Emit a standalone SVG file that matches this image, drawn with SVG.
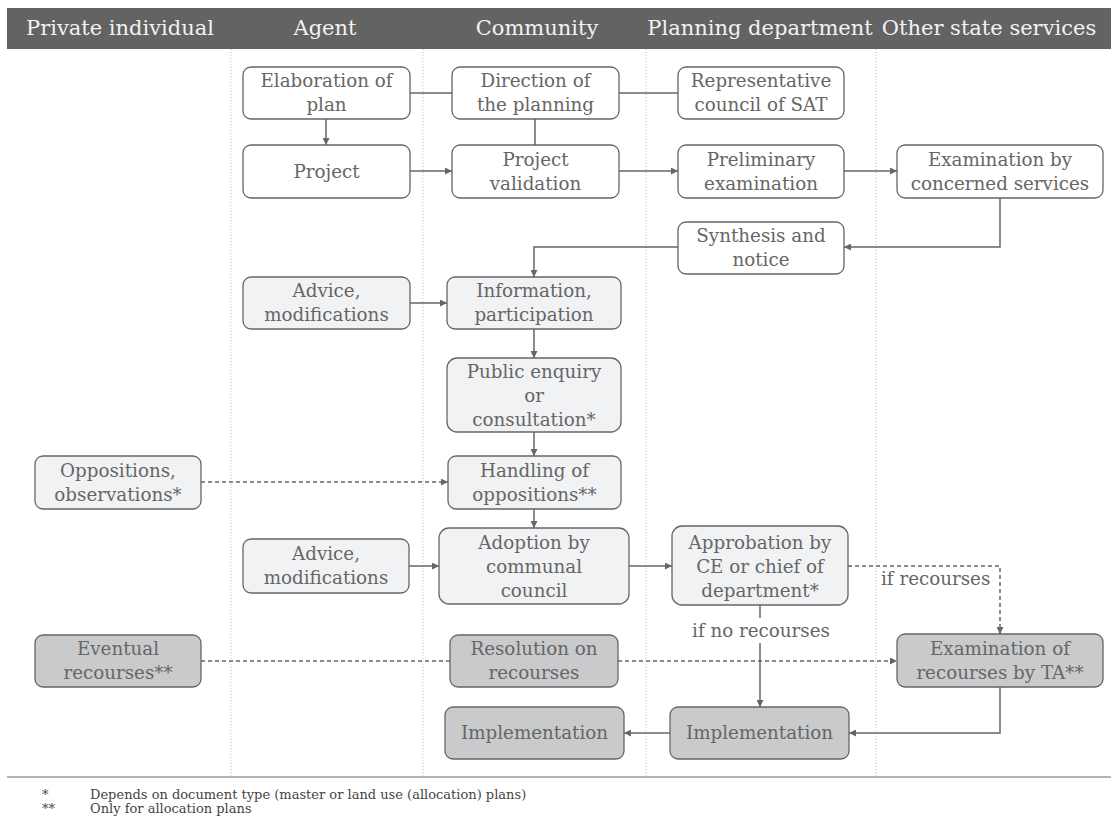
<svg xmlns="http://www.w3.org/2000/svg" width="1115" height="825" viewBox="0 0 1115 825">
  <style>
    .hdr { fill: #f2f2f2; font-family: "DejaVu Serif", "Liberation Serif", serif; font-size: 21px; text-anchor: middle; }
    .box { stroke: #666; stroke-width: 1.3; }
    .w { fill: #ffffff; }
    .l { fill: #f1f2f4; }
    .d { fill: #c9cacc; }
    .t { fill: #666; font-family: "DejaVu Serif", "Liberation Serif", serif; font-size: 18.3px; text-anchor: middle; }
    .lane { stroke: #bdbdbd; stroke-width: 1; stroke-dasharray: 1 2; }
    .c { stroke: #666; stroke-width: 1.5; fill: none; }
    .dash { stroke-dasharray: 4 3; }
    .foot { fill: #444; font-family: "DejaVu Serif", "Liberation Serif", serif; font-size: 13px; }
  </style>
  <defs>
    <marker id="arr" viewBox="0 0 10 10" refX="10" refY="5" markerWidth="7" markerHeight="7" orient="auto" markerUnits="userSpaceOnUse">
      <path d="M0,0 L10,5 L0,10 z" fill="#666"/>
    </marker>
  </defs>

  <!-- header band with lane titles -->
  <g id="header">
    <rect x="7" y="8" width="1104" height="41" fill="#636363"/>
    <text class="hdr" x="120" y="35">Private individual</text>
    <text class="hdr" x="325" y="35">Agent</text>
    <text class="hdr" x="537" y="35">Community</text>
    <text class="hdr" x="760" y="35">Planning department</text>
    <text class="hdr" x="989" y="35">Other state services</text>
  </g>

  <!-- lane separators -->
  <g id="lanes">
    <line class="lane" x1="231" y1="49" x2="231" y2="777"/>
    <line class="lane" x1="423" y1="49" x2="423" y2="777"/>
    <line class="lane" x1="646" y1="49" x2="646" y2="777"/>
    <line class="lane" x1="876" y1="49" x2="876" y2="777"/>
    <line x1="7" y1="777" x2="1111" y2="777" stroke="#999" stroke-width="1.5"/>
  </g>

  <!-- connectors -->
  <g id="connectors">
    <line class="c" x1="410" y1="93" x2="452" y2="93"/>
    <line class="c" x1="619" y1="93" x2="678" y2="93"/>
    <line class="c" x1="535" y1="119" x2="535" y2="145"/>
    <line class="c" x1="326" y1="119" x2="326" y2="145" marker-end="url(#arr)"/>
    <line class="c" x1="410" y1="171" x2="452" y2="171" marker-end="url(#arr)"/>
    <line class="c" x1="619" y1="171" x2="678" y2="171" marker-end="url(#arr)"/>
    <line class="c" x1="844" y1="171" x2="897" y2="171" marker-end="url(#arr)"/>
    <polyline class="c" points="1000,198 1000,247 844,247" marker-end="url(#arr)"/>
    <polyline class="c" points="678,247 534,247 534,277" marker-end="url(#arr)"/>
    <line class="c" x1="410" y1="303" x2="447" y2="303" marker-end="url(#arr)"/>
    <line class="c" x1="534" y1="329" x2="534" y2="358" marker-end="url(#arr)"/>
    <line class="c" x1="534" y1="432" x2="534" y2="456" marker-end="url(#arr)"/>
    <line class="c dash" x1="201" y1="482" x2="448" y2="482" marker-end="url(#arr)"/>
    <line class="c" x1="534" y1="509" x2="534" y2="528" marker-end="url(#arr)"/>
    <line class="c" x1="409" y1="566" x2="439" y2="566" marker-end="url(#arr)"/>
    <line class="c" x1="629" y1="566" x2="672" y2="566" marker-end="url(#arr)"/>
    <polyline class="c dash" points="848,566 1000,566 1000,634" marker-end="url(#arr)"/>
    <line class="c" x1="760" y1="605" x2="760" y2="618"/>
    <line class="c" x1="760" y1="643" x2="760" y2="707" marker-end="url(#arr)"/>
    <line class="c dash" x1="201" y1="661" x2="450" y2="661"/>
    <line class="c dash" x1="618" y1="661" x2="897" y2="661" marker-end="url(#arr)"/>
    <polyline class="c" points="1000,687 1000,733 849,733" marker-end="url(#arr)"/>
    <line class="c" x1="670" y1="733" x2="624" y2="733" marker-end="url(#arr)"/>
    <text class="t" x="881" y="585" text-anchor="start" style="text-anchor:start">if recourses</text>
    <text class="t" x="761" y="637">if no recourses</text>
  </g>

  <g id="elaboration">
    <rect class="box w" x="243" y="67" width="167" height="52" rx="8"/>
    <text class="t" x="326.5" y="87">Elaboration of</text>
    <text class="t" x="326.5" y="111">plan</text>
  </g>
  <g id="direction">
    <rect class="box w" x="452" y="67" width="167" height="52" rx="8"/>
    <text class="t" x="535.5" y="87">Direction of</text>
    <text class="t" x="535.5" y="111">the planning</text>
  </g>
  <g id="representative">
    <rect class="box w" x="678" y="67" width="166" height="52" rx="8"/>
    <text class="t" x="761" y="87">Representative</text>
    <text class="t" x="761" y="111">council of SAT</text>
  </g>
  <g id="project">
    <rect class="box w" x="243" y="145" width="167" height="53" rx="8"/>
    <text class="t" x="326.5" y="178">Project</text>
  </g>
  <g id="validation">
    <rect class="box w" x="452" y="145" width="167" height="53" rx="8"/>
    <text class="t" x="535.5" y="166">Project</text>
    <text class="t" x="535.5" y="190">validation</text>
  </g>
  <g id="preliminary">
    <rect class="box w" x="678" y="145" width="166" height="53" rx="8"/>
    <text class="t" x="761" y="166">Preliminary</text>
    <text class="t" x="761" y="190">examination</text>
  </g>
  <g id="examination">
    <rect class="box w" x="897" y="145" width="206" height="53" rx="8"/>
    <text class="t" x="1000" y="166">Examination by</text>
    <text class="t" x="1000" y="190">concerned services</text>
  </g>
  <g id="synthesis">
    <rect class="box w" x="678" y="222" width="166" height="52" rx="8"/>
    <text class="t" x="761" y="242">Synthesis and</text>
    <text class="t" x="761" y="266">notice</text>
  </g>
  <g id="advice1">
    <rect class="box l" x="243" y="277" width="167" height="52" rx="8"/>
    <text class="t" x="326.5" y="297">Advice,</text>
    <text class="t" x="326.5" y="321">modifications</text>
  </g>
  <g id="information">
    <rect class="box l" x="447" y="277" width="174" height="52" rx="8"/>
    <text class="t" x="534" y="297">Information,</text>
    <text class="t" x="534" y="321">participation</text>
  </g>
  <g id="enquiry">
    <rect class="box l" x="447" y="358" width="174" height="74" rx="10"/>
    <text class="t" x="534" y="378">Public enquiry</text>
    <text class="t" x="534" y="402">or</text>
    <text class="t" x="534" y="426">consultation*</text>
  </g>
  <g id="oppositions">
    <rect class="box l" x="35" y="456" width="166" height="53" rx="8"/>
    <text class="t" x="118" y="477">Oppositions,</text>
    <text class="t" x="118" y="501">observations*</text>
  </g>
  <g id="handling">
    <rect class="box l" x="448" y="456" width="173" height="53" rx="8"/>
    <text class="t" x="534.5" y="477">Handling of</text>
    <text class="t" x="534.5" y="501">oppositions**</text>
  </g>
  <g id="advice2">
    <rect class="box l" x="243" y="539" width="166" height="54" rx="8"/>
    <text class="t" x="326" y="560">Advice,</text>
    <text class="t" x="326" y="584">modifications</text>
  </g>
  <g id="adoption">
    <rect class="box l" x="439" y="528" width="190" height="76" rx="10"/>
    <text class="t" x="534" y="549">Adoption by</text>
    <text class="t" x="534" y="573">communal</text>
    <text class="t" x="534" y="597">council</text>
  </g>
  <g id="approbation">
    <rect class="box l" x="672" y="526" width="176" height="79" rx="10"/>
    <text class="t" x="760" y="549">Approbation by</text>
    <text class="t" x="760" y="573">CE or chief of</text>
    <text class="t" x="760" y="597">department*</text>
  </g>
  <g id="eventual">
    <rect class="box d" x="35" y="635" width="166" height="52" rx="8"/>
    <text class="t" x="118" y="655">Eventual</text>
    <text class="t" x="118" y="679">recourses**</text>
  </g>
  <g id="resolution">
    <rect class="box d" x="450" y="635" width="168" height="52" rx="8"/>
    <text class="t" x="534" y="655">Resolution on</text>
    <text class="t" x="534" y="679">recourses</text>
  </g>
  <g id="recourses-ta">
    <rect class="box d" x="897" y="634" width="206" height="53" rx="8"/>
    <text class="t" x="1000" y="655">Examination of</text>
    <text class="t" x="1000" y="679">recourses by TA**</text>
  </g>
  <g id="implementation1">
    <rect class="box d" x="445" y="707" width="179" height="52" rx="8"/>
    <text class="t" x="534.5" y="739">Implementation</text>
  </g>
  <g id="implementation2">
    <rect class="box d" x="670" y="707" width="179" height="52" rx="8"/>
    <text class="t" x="759.5" y="739">Implementation</text>
  </g>

  <!-- footnotes -->
  <g id="notes">
    <text class="foot" x="42" y="799">*</text>
    <text class="foot" x="90" y="799">Depends on document type (master or land use (allocation) plans)</text>
    <text class="foot" x="42" y="813">**</text>
    <text class="foot" x="90" y="813">Only for allocation plans</text>
  </g>
</svg>
